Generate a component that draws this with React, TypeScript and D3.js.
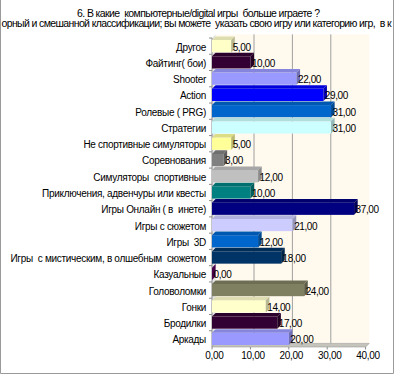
import React from "react";
import * as d3 from "d3";

const categories = [
  "Другое",
  "Файтинг( бои)",
  "Shooter",
  "Action",
  "Ролевые ( PRG)",
  "Стратегии",
  "Не спортивные симуляторы",
  "Соревнования",
  "Симуляторы  спортивные",
  "Приключения, адвенчуры или квесты",
  "Игры Онлайн ( в  инете)",
  "Игры с сюжетом",
  "Игры  3D",
  "Игры  с мистическим, в олшебным  сюжетом",
  "Казуальные",
  "Головоломки",
  "Гонки",
  "Бродилки",
  "Аркады",
];
const values = [5, 10, 22, 29, 31, 31, 5, 3, 12, 10, 37, 21, 12, 18, 0, 24, 14, 17, 20];
const colors = [
  "#FFFFC8", "#330033", "#9999FF", "#0000FF", "#0066CC", "#CCFFFF", "#FFFF99",
  "#808080", "#C0C0C0", "#008080", "#000080", "#CCCCFF", "#0066CC", "#003366",
  "#660066", "#7F7F62", "#FFFFCC", "#330033", "#9999FF",
];
const ticks = [0, 10, 20, 30, 40];
const title1 = "6. В какие  компьютерные/digital игры  больше играете ?";
const title2 = "орный и смешанной классификации; вы можете  указать свою игру или категорию игр,  в к";

const fmt = (v: number) => v.toFixed(2).replace(".", ",");

export default function App() {
  const W = 396, H = 375;
  const dx = 3.6, dy = -3.6;
  const x = d3.scaleLinear().domain([0, 40]).range([212, 365.6]);
  const y = d3.scaleBand<string>().domain(categories).range([38, 347]).paddingInner(0.25).paddingOuter(0.125);
  const bw = y.bandwidth();
  const yTop = 38, yBot = 347;
  const x0 = x(0), x1 = x(40);
  const font = "'Liberation Sans', Arial, sans-serif";
  const pts = (a: number[][]) => a.map((p) => p.join(",")).join(" ");

  return (
    <svg width={W} height={H} style={{ position: "absolute", left: 0, top: 0 }} fontFamily={font}>
      <rect x={0} y={0} width={W} height={H} fill="#fff" />
      {/* back wall */}
      <rect x={x0 + dx} y={yTop + dy} width={x1 - x0} height={yBot - yTop} fill="#FFF9EE" />
      {/* left wall */}
      <polygon points={pts([[x0, yTop], [x0 + dx, yTop + dy], [x0 + dx, yBot + dy], [x0, yBot]])} fill="#E4E4E4" />
      {/* gridlines */}
      {ticks.slice(1, -1).map((t) => (
        <line key={t} x1={x(t) + dx} x2={x(t) + dx} y1={yTop + dy} y2={yBot + dy} stroke="#A0A0A0" strokeWidth={1} />
      ))}
      {/* floor */}
      <polygon
        points={pts([[x0, yBot], [x1, yBot], [x1 + dx, yBot + dy], [x0 + dx, yBot + dy]])}
        fill="#C4C4BC"
        stroke="#9A9A94"
        strokeWidth={0.6}
      />
      {/* category axis */}
      <line x1={x0} x2={x0} y1={yTop} y2={yBot} stroke="#8A8A8A" strokeWidth={1} />
      {categories.map((c, i) => (
        <line key={"t" + i} x1={x0 - 3} x2={x0} y1={(y(c) as number) - y.step() * 0.125} y2={(y(c) as number) - y.step() * 0.125} stroke="#8A8A8A" />
      ))}
      {/* value ticks */}
      {ticks.map((t) => (
        <line key={"vt" + t} x1={x(t)} x2={x(t)} y1={yBot} y2={yBot + 2.5} stroke="#8A8A8A" />
      ))}
      {/* bars */}
      {categories.map((c, i) => {
        const by = y(c) as number;
        const xe = x(values[i]);
        const col = d3.color(colors[i])!;
        const top = (col as any).darker(0.4).formatHex();
        const side = (col as any).darker(0.9).formatHex();
        return (
          <g key={c}>
            {values[i] > 0 && <rect x={x0} y={by} width={xe - x0} height={bw} fill={colors[i]} />}
            <polygon points={pts([[x0, by], [xe, by], [xe + dx, by + dy], [x0 + dx, by + dy]])} fill={top} />
            <polygon points={pts([[xe, by], [xe + dx, by + dy], [xe + dx, by + bw + dy], [xe, by + bw]])} fill={side} />
          </g>
        );
      })}
      {/* value labels */}
      {categories.map((c, i) => (
        <text key={"v" + i} x={x(values[i]) + 1.5} y={(y(c) as number) + bw / 2 + 4.5} fontSize={10} letterSpacing={-0.4} fill="#000">
          {fmt(values[i])}
        </text>
      ))}
      {/* category labels */}
      {categories.map((c, i) => (
        <text key={"c" + i} x={206} y={(y(c) as number) + bw / 2 + 4.5} fontSize={10} letterSpacing={-0.3} textAnchor="end" fill="#000" style={{ whiteSpace: "pre" }}>
          {c}
        </text>
      ))}
      {/* tick labels */}
      {ticks.map((t) => (
        <text key={"tl" + t} x={x(t) + 2.5} y={359} fontSize={10} letterSpacing={-0.3} textAnchor="middle" fill="#000">
          {fmt(t)}
        </text>
      ))}
      {/* title */}
      <text x={77} y={16.5} fontSize={10.5} textLength={243} lengthAdjust="spacing" style={{ whiteSpace: "pre" }}>
        {title1}
      </text>
      <text x={1.5} y={27} fontSize={10.5} textLength={390} lengthAdjust="spacing" style={{ whiteSpace: "pre" }}>
        {title2}
      </text>
      {/* chart border */}
      <path d={`M0.5,0 V373.5 H393.5 V0`} fill="none" stroke="#9A9A9A" strokeWidth={1} />
    </svg>
  );
}
